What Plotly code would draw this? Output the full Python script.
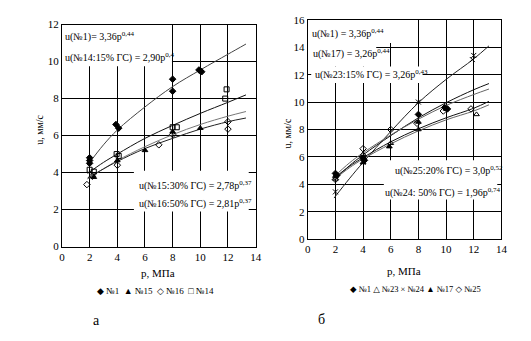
import plotly.graph_objects as go

W, H = 531, 341

# ---------------- Chart "а" (left) ----------------
a_n1_p = [2, 2, 2, 3.9, 4.1, 8, 8, 9.9, 10, 10.1]
a_n1_u = [4.8, 4.65, 4.5, 6.6, 6.4, 9.05, 8.4, 9.55, 9.5, 9.45]
a_n15_p = [2.3, 4, 6, 8, 10]
a_n15_u = [3.75, 4.65, 5.2, 6.2, 6.4]
a_n16_p = [1.8, 2.2, 4, 7, 8, 12, 12]
a_n16_u = [3.35, 3.8, 4.4, 5.5, 6.05, 6.75, 6.35]
a_n14_p = [2, 2.3, 3.95, 4.1, 8, 8.3, 11.9, 11.8]
a_n14_u = [4.15, 4.05, 5.0, 4.9, 6.45, 6.45, 8.5, 8.0]

a_curve_p = [1.85, 3, 4, 6, 8, 10, 12, 13.3]
a_curve_n1 = [4.4, 5.5, 6.3, 7.55, 8.65, 9.55, 10.4, 10.95]
a_curve_n14 = [3.95, 4.55, 5.0, 5.85, 6.55, 7.2, 7.8, 8.2]
a_curve_n15 = [3.65, 4.2, 4.65, 5.4, 6.05, 6.6, 7.05, 7.3]
a_curve_n16 = [3.7, 4.2, 4.6, 5.3, 5.85, 6.35, 6.75, 6.95]

# ---------------- Chart "б" (right) ----------------
b_n1_p = [2, 2.1, 4, 4.1, 8, 9.9, 10.1]
b_n1_u = [4.8, 4.65, 5.9, 5.75, 9.1, 9.6, 9.5]
b_n23_p = [2, 4, 6, 8, 12.2]
b_n23_u = [4.4, 6.2, 7.0, 8.0, 9.1]
b_n24_p = [2, 4, 8, 11.9, 12]
b_n24_u = [3.45, 5.6, 10.0, 13.1, 13.4]
b_n17_p = [2, 4, 5.9, 8, 10]
b_n17_u = [4.6, 5.6, 6.75, 8.55, 9.5]
b_n25_p = [2, 4, 6, 7.9, 9.8, 11.8]
b_n25_u = [4.35, 6.6, 8.0, 8.45, 9.35, 9.5]

b_curve_p = [1.9, 3, 4, 6, 8, 10, 12, 13.1]
b_curve_n24 = [3.0, 4.4, 5.6, 7.85, 9.95, 11.65, 13.15, 14.1]
b_curve_n25 = [4.3, 5.35, 6.15, 7.55, 8.85, 9.95, 10.9, 11.35]
b_curve_n1 = [4.55, 5.55, 6.3, 7.6, 8.75, 9.75, 10.55, 10.95]
b_curve_n17 = [4.45, 5.3, 5.95, 7.1, 8.05, 8.85, 9.55, 10.05]
b_curve_n23 = [4.35, 5.2, 5.85, 6.95, 7.9, 8.7, 9.35, 9.8]

x_ticks = [0, 2, 4, 6, 8, 10, 12, 14]
a_y_ticks = [0, 2, 4, 6, 8, 10, 12]
b_y_ticks = [0, 2, 4, 6, 8, 10, 12, 14, 16]

FONT = "Liberation Serif, DejaVu Serif, serif"

def px(x, y):
    return x / W, 1 - y / H

fig = go.Figure()

def curve(p, u, color, xa, ya):
    fig.add_trace(go.Scatter(x=p, y=u, mode="lines", line=dict(color=color, width=1, shape="spline"),
                             xaxis=xa, yaxis=ya, showlegend=False, hoverinfo="skip"))

def pts(p, u, symbol, xa, ya, size=5):
    fig.add_trace(go.Scatter(x=p, y=u, mode="markers",
                             marker=dict(symbol=symbol, size=size, color="black",
                                         line=dict(color="black", width=1)),
                             xaxis=xa, yaxis=ya, showlegend=False))

# left curves
curve(a_curve_p, a_curve_n1, "#444444", "x", "y")
curve(a_curve_p, a_curve_n14, "#111111", "x", "y")
curve(a_curve_p, a_curve_n15, "#777777", "x", "y")
curve(a_curve_p, a_curve_n16, "#222222", "x", "y")
# left points
pts(a_n1_p, a_n1_u, "diamond", "x", "y", 5)
pts(a_n15_p, a_n15_u, "triangle-up", "x", "y", 5)
pts(a_n16_p, a_n16_u, "diamond-open", "x", "y", 5)
pts(a_n14_p, a_n14_u, "square-open", "x", "y", 5)

# right curves
curve(b_curve_p, b_curve_n24, "#222222", "x2", "y2")
curve(b_curve_p, b_curve_n25, "#111111", "x2", "y2")
curve(b_curve_p, b_curve_n1, "#666666", "x2", "y2")
curve(b_curve_p, b_curve_n17, "#111111", "x2", "y2")
curve(b_curve_p, b_curve_n23, "#666666", "x2", "y2")
# right points
pts(b_n1_p, b_n1_u, "diamond", "x2", "y2", 5)
pts(b_n23_p, b_n23_u, "triangle-up-open", "x2", "y2", 5)
pts(b_n24_p, b_n24_u, "x-thin-open", "x2", "y2", 5)
pts(b_n17_p, b_n17_u, "triangle-up", "x2", "y2", 5)
pts(b_n25_p, b_n25_u, "diamond-open", "x2", "y2", 5)

axis_common = dict(showline=True, mirror=True, linecolor="black", linewidth=1,
                   showgrid=True, gridcolor="black", gridwidth=1.3, zeroline=False,
                   ticks="", tickfont=dict(family=FONT, size=11, color="black"))

ax1 = px(60, 0)[0], px(257, 0)[0]
ay1 = px(0, 249.3)[1], px(0, 19.3)[1]
ax2 = px(310, 0)[0], px(507, 0)[0]
ay2 = px(0, 241.7)[1], px(0, 14.3)[1]

fig.update_layout(
    width=W, height=H, margin=dict(l=0, r=0, t=0, b=0),
    paper_bgcolor="white", plot_bgcolor="white", showlegend=False,
    font=dict(family=FONT, size=10, color="black"),
    xaxis=dict(domain=list(ax1), range=[0, 14], tickvals=x_ticks, anchor="y", **axis_common),
    yaxis=dict(domain=list(ay1), range=[0, 12], tickvals=a_y_ticks, anchor="x", **axis_common),
    xaxis2=dict(domain=list(ax2), range=[0, 14], tickvals=x_ticks, anchor="y2", **axis_common),
    yaxis2=dict(domain=list(ay2), range=[0, 16], tickvals=b_y_ticks, anchor="x2", **axis_common),
)

# white blocks behind equation text (hide gridlines)
def block(xr, yr, x0, x1, y0, y1):
    fig.add_shape(type="rect", xref=xr, yref=yr, x0=x0, x1=x1, y0=y0, y1=y1,
                  fillcolor="white", line=dict(width=0), layer="between")

block("x", "y", 0, 7.95, 9.75, 12)
block("x", "y", 5.2, 13.5, 1.9, 4.1)
block("x2", "y2", 0, 7.9, 14.3, 16)
block("x2", "y2", 0, 4.95, 12.6, 14.3)
block("x2", "y2", 0.25, 8.3, 11.4, 12.6)
block("x2", "y2", 5.5, 13.7, 2.9, 5.75)

def text(x, y, s, size=10, anchor="left", angle=0):
    fx, fy = px(x, y)
    fig.add_annotation(x=fx, y=fy, xref="paper", yref="paper", text=s, showarrow=False,
                       xanchor=anchor, yanchor="middle", textangle=angle,
                       font=dict(family=FONT, size=size, color="black"))

# equations - left
text(61, 32, "u(№1)= 3,36p<sup>0,44</sup>")
text(61, 53, "u(№14:15% ГС) = 2,90p<sup>0,4</sup>")
text(136, 186, "u(№15:30% ГС) = 2,78p<sup>0,37</sup>")
text(136, 205, "u(№16:50% ГС) = 2,81p<sup>0,37</sup>")
# equations - right
text(312, 29, "u(№1) = 3,36p<sup>0,44</sup>")
text(313, 49, "u(№17) = 3,26p<sup>0,44</sup>")
text(315, 71, "u(№23:15% ГС) = 3,26p<sup>0,43</sup>")
text(397, 171, "u(№25:20% ГС) = 3,0p<sup>0,52</sup>")
text(387, 193, "u(№24: 50% ГС) = 1,96p<sup>0,74</sup>")

# axis titles
text(158, 277, "p, МПа", 11, "center")
text(408, 275, "p, МПа", 11, "center")
text(37, 128, "u, мм/с", 10, "center", -90)
text(289, 132, "u, мм/с", 10, "center", -90)

# legends
text(155, 295, "◆ №1  ▲ №15  ◇ №16  □ №14", 9, "center")
text(420, 293, "◆ №1 △ №23 × №24 ▲ №17 ◇ №25", 8.5, "center")

# panel labels
text(95, 326, "а", 14, "center")
text(324, 325, "б", 14, "center")

fig.write_html("out.html")
